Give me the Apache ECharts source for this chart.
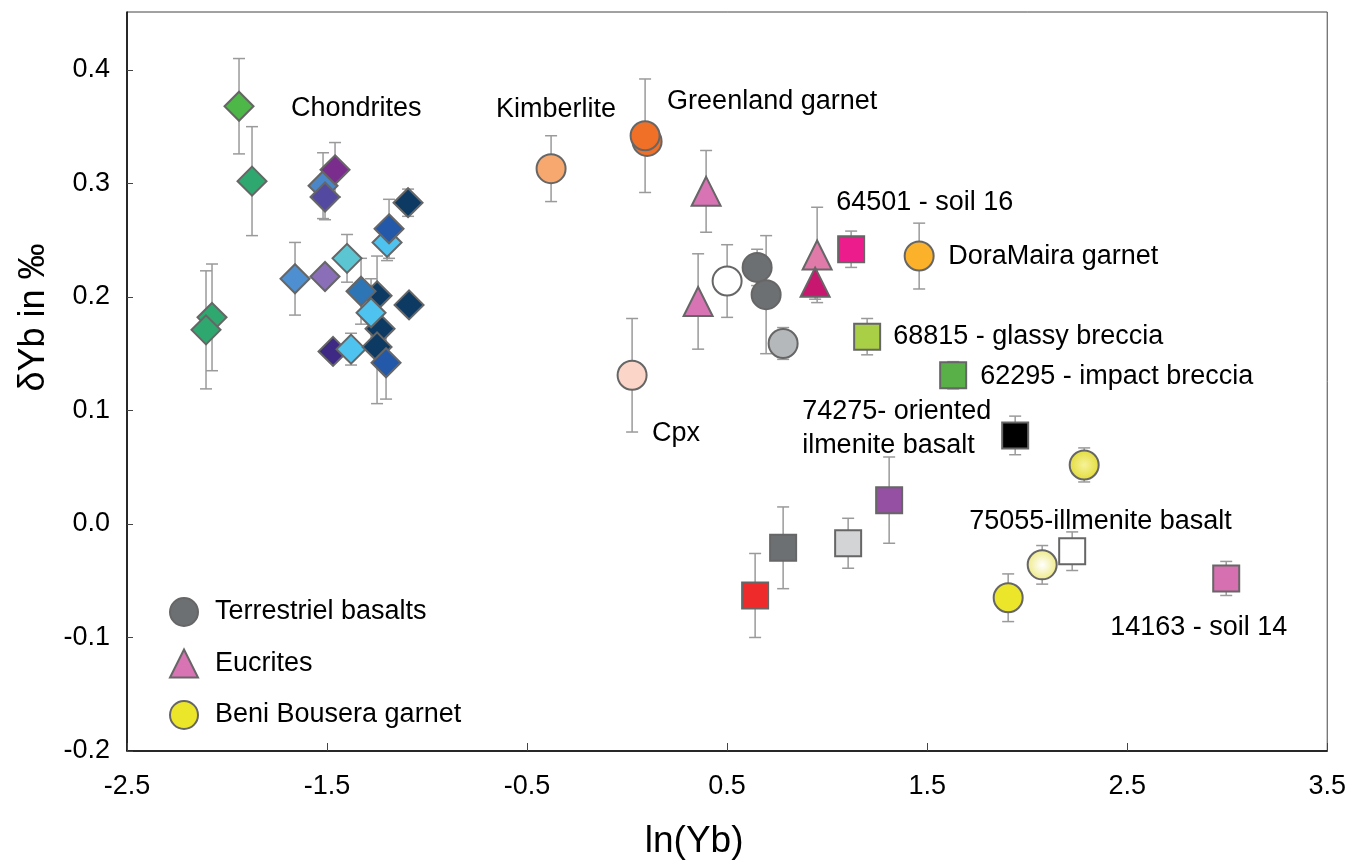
<!DOCTYPE html>
<html>
<head>
<meta charset="utf-8">
<script src="https://cdn.jsdelivr.net/npm/echarts@6/dist/echarts.min.js"></script>
<style>
html,body{margin:0;padding:0;background:#fff;}
#chart{width:1349px;height:866px;}
</style>
</head>
<body>
<div id="chart"></div>
<script>
// ---- Data ----
// Chondrites (diamonds)
const chondX   = [-1.94, -1.875, -2.075, -2.105, -1.66, -1.51, -1.52, -1.46, -1.51, -1.40, -1.25, -1.33, -1.235, -1.28, -1.47, -1.38, -1.25, -1.205, -1.20, -1.19, -1.095, -1.09];
const chondY   = [0.368, 0.302, 0.182, 0.171, 0.216, 0.218, 0.298, 0.312, 0.288, 0.234, 0.201, 0.205, 0.172, 0.186, 0.152, 0.154, 0.156, 0.142, 0.248, 0.260, 0.283, 0.193];
const chondErr = [0.042, 0.048, 0.047, 0.052, 0.032, 0, 0.029, 0.024, 0.020, 0.021, 0.035, 0.029, 0.030, 0.030, 0, 0.014, 0.050, 0.032, 0.016, 0.026, 0.012, 0];

// Other circles: Kimberlite, Greenland garnet (2), Cpx, DoraMaira garnet
const garnetX   = [-0.38, 0.10, 0.09, 0.025, 1.46];
const garnetY   = [0.313, 0.337, 0.342, 0.131, 0.236];
const garnetErr = [0.029, 0, 0.050, 0.050, 0.029];

// Terrestriel basalts (circles)
const terrX   = [0.50, 0.65, 0.695, 0.78];
const terrY   = [0.214, 0.226, 0.202, 0.159];
const terrErr = [0.032, 0.016, 0.052, 0.014];

// Eucrites (triangles)
const eucX   = [0.395, 0.355, 0.95, 0.94];
const eucY   = [0.293, 0.196, 0.237, 0.213];
const eucErr = [0.036, 0.042, 0.042, 0.015];

// Beni Bousera garnet (circles)
const beniX   = [1.905, 2.075, 2.285];
const beniY   = [-0.065, -0.036, 0.052];
const beniErr = [0.021, 0.017, 0.015];

// Lunar samples (squares)
const lunarX   = [1.12, 1.20, 1.63, 1.94, 0.64, 0.78, 1.105, 1.31, 2.225, 2.995];
const lunarY   = [0.242, 0.165, 0.131, 0.078, -0.063, -0.021, -0.017, 0.021, -0.024, -0.048];
const lunarErr = [0.016, 0.016, 0.012, 0.017, 0.037, 0.036, 0.022, 0.038, 0.017, 0.015];

// Annotations (text, anchor at left-middle of text in data coordinates)
const noteText = ['Chondrites', 'Kimberlite', 'Greenland garnet', '64501 - soil 16', 'DoraMaira garnet',
  '68815 - glassy breccia', '62295 - impact breccia', '74275- oriented\nilmenite basalt', 'Cpx',
  '75055-illmenite basalt', '14163 - soil 14'];
const noteX = [-1.68, -0.655, 0.20, 1.045, 1.605, 1.33, 1.765, 0.875, 0.125, 1.71, 2.415];
const noteY = [0.366, 0.365, 0.372, 0.283, 0.236, 0.165, 0.130, 0.084, 0.080, 0.002, -0.091];

const xTicks = [-2.5, -1.5, -0.5, 0.5, 1.5, 2.5, 3.5];
const yTicks = [-0.2, -0.1, 0.0, 0.1, 0.2, 0.3, 0.4];

// ---- Styles ----
const chondColors = ['#4db848', '#2ea86e', '#2ea86e', '#2ea86e', '#4d8fd0', '#8a6fb8', '#4a86c8', '#7b2d8e', '#5449a0', '#5bc5d2',
  '#0d3a63', '#2e75b6', '#0d3a63', '#4fc3f0', '#3e2a85', '#4fc3f0', '#0d3a63', '#2458a8', '#4fc3f0', '#2458a8', '#0d3a63', '#0d3a63'];
const garnetColors = ['#f7a86e', '#f07028', '#f07028', '#fbd5c8', '#fbb22a'];
const terrColors = ['#ffffff', '#6d7073', '#6d7073', '#b4b8bb'];
const eucColors = ['#d873b4', '#d873b4', '#e07aa8', '#c8176f'];
const beniColors = [
  '#ece62a',
  {type: 'radial', x: 0.5, y: 0.5, r: 0.5, colorStops: [{offset: 0, color: '#ffffff'}, {offset: 1, color: '#eeea86'}]},
  {type: 'radial', x: 0.5, y: 0.5, r: 0.5, colorStops: [{offset: 0, color: '#f6f39a'}, {offset: 1, color: '#e3dc3a'}]}
];
const lunarColors = ['#ec1c8c', '#a8cf45', '#5ab048', '#000000', '#ee2a2a', '#6d7073', '#d2d4d5', '#9550a3', '#ffffff', '#d670b0'];

const FONT = '"Liberation Sans", Arial, Helvetica, sans-serif';
const BORDER = '#666666';

function pts(xs, ys, colors) {
  return xs.map((x, i) => ({value: [x, ys[i]], itemStyle: {color: colors[i]}}));
}
function errs(xs, ys, es) {
  return xs.map((x, i) => [x, ys[i], es[i]]);
}
const errData = [].concat(
  errs(chondX, chondY, chondErr), errs(garnetX, garnetY, garnetErr), errs(terrX, terrY, terrErr),
  errs(eucX, eucY, eucErr), errs(beniX, beniY, beniErr), errs(lunarX, lunarY, lunarErr));

function renderErr(params, api) {
  const x = api.value(0), y = api.value(1), e = api.value(2);
  if (!e) return null;
  const t = api.coord([x, y + e]);
  const b = api.coord([x, y - e]);
  const w = 6;
  const st = {stroke: '#9a9a9a', lineWidth: 1.5};
  return {
    type: 'group',
    children: [
      {type: 'line', shape: {x1: t[0], y1: t[1], x2: b[0], y2: b[1]}, style: st},
      {type: 'line', shape: {x1: t[0] - w, y1: t[1], x2: t[0] + w, y2: t[1]}, style: st},
      {type: 'line', shape: {x1: b[0] - w, y1: b[1], x2: b[0] + w, y2: b[1]}, style: st}
    ]
  };
}

const markerStyle = {borderColor: BORDER, borderWidth: 2, opacity: 1};

const chart = echarts.init(document.getElementById('chart'), null, {renderer: 'canvas'});
chart.setOption({
  backgroundColor: '#ffffff',
  animation: false,
  textStyle: {fontFamily: FONT},
  grid: {left: 127, right: 21, top: 12, bottom: 115, show: true, borderColor: '#444', borderWidth: 1, containLabel: false},
  legend: {
    orient: 'vertical', left: 164, top: 592,
    itemWidth: 28, itemHeight: 28, itemGap: 21.5,
    data: ['Terrestriel basalts', 'Eucrites', 'Beni Bousera garnet'],
    textStyle: {fontSize: 27, color: '#000', fontFamily: FONT, padding: [0, 0, 0, 12]}
  },
  xAxis: {
    type: 'value', min: xTicks[0], max: xTicks[xTicks.length - 1], interval: 1,
    name: 'ln(Yb)', nameLocation: 'middle', nameGap: 72,
    nameTextStyle: {fontSize: 37, color: '#000', fontFamily: FONT, padding: [0, 66, 0, 0]},
    axisLine: {show: true, onZero: false, lineStyle: {color: '#000', width: 1.5}},
    axisTick: {show: true, inside: true, length: 8, lineStyle: {color: '#444'}},
    axisLabel: {fontSize: 27, color: '#000', margin: 22, fontFamily: FONT,
      formatter: v => xTicks.some(t => Math.abs(t - v) < 1e-6) ? String(v) : ''},
    splitLine: {show: false}
  },
  yAxis: {
    type: 'value', min: yTicks[0], max: 0.451, interval: 0.1,
    name: 'δYb in ‰', nameLocation: 'middle', nameGap: 70, nameRotate: 90,
    nameTextStyle: {fontSize: 36, color: '#000', fontFamily: FONT, padding: [0, 0, 0, 128]},
    axisLine: {show: true, onZero: false, lineStyle: {color: '#000', width: 1.5}},
    axisTick: {show: true, inside: true, length: 6, lineStyle: {color: '#444'}},
    axisLabel: {fontSize: 27, color: '#000', margin: 17, fontFamily: FONT, showMaxLabel: false,
      formatter: v => yTicks.some(t => Math.abs(t - v) < 1e-6) ? v.toFixed(1) : ''},
    splitLine: {show: false}
  },
  series: [
    {type: 'custom', name: 'err', renderItem: renderErr, data: errData, z: 1, silent: true,
      encode: {x: 0, y: 1}},
    {type: 'scatter', name: 'Chondrites', symbol: 'diamond', symbolSize: 29, z: 3,
      itemStyle: Object.assign({color: '#2ea86e'}, markerStyle), data: pts(chondX, chondY, chondColors)},
    {type: 'scatter', name: 'Garnets', symbol: 'circle', symbolSize: 29, z: 3,
      itemStyle: Object.assign({color: '#f07028'}, markerStyle), data: pts(garnetX, garnetY, garnetColors)},
    {type: 'scatter', name: 'Terrestriel basalts', symbol: 'circle', symbolSize: 29, z: 3,
      itemStyle: Object.assign({color: '#6d7073'}, markerStyle), data: pts(terrX, terrY, terrColors)},
    {type: 'scatter', name: 'Eucrites', symbol: 'triangle', symbolSize: 29, z: 3,
      itemStyle: Object.assign({color: '#d873b4'}, markerStyle), data: pts(eucX, eucY, eucColors)},
    {type: 'scatter', name: 'Beni Bousera garnet', symbol: 'circle', symbolSize: 29, z: 3,
      itemStyle: Object.assign({color: '#ece62a'}, markerStyle), data: pts(beniX, beniY, beniColors)},
    {type: 'scatter', name: 'Lunar', symbol: 'rect', symbolSize: 26, z: 3,
      itemStyle: Object.assign({color: '#000'}, markerStyle), data: pts(lunarX, lunarY, lunarColors)},
    {type: 'scatter', name: 'notes', symbolSize: 0, z: 4, silent: true,
      itemStyle: {opacity: 1},
      data: noteX.map((x, i) => ({value: [x, noteY[i]], name: noteText[i]})),
      label: {show: true, position: 'right', distance: 0, formatter: p => p.name,
        fontSize: 27, color: '#000', opacity: 1, fontFamily: FONT, lineHeight: 34, align: 'left'}}
  ]
});
</script>
</body>
</html>
